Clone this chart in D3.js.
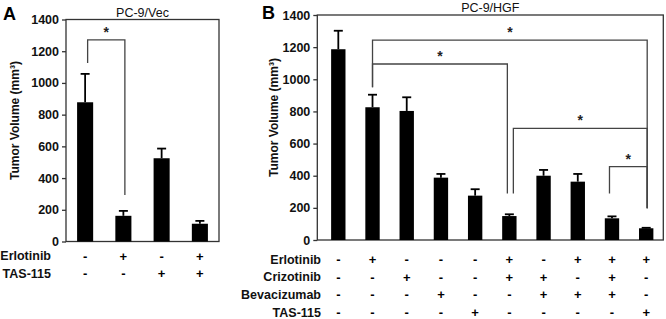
<!DOCTYPE html>
<html>
<head>
<meta charset="utf-8">
<script src="https://cdn.jsdelivr.net/npm/d3@7"></script>
<style>
  html, body { margin: 0; padding: 0; background: #fff; }
  svg { display: block; font-family: "Liberation Sans", Arial, sans-serif; }
</style>
</head>
<body>
<svg id="chart" width="666" height="319"></svg>
<script>
// Panel A: PC-9/Vec
const erlotinibA = ['-', '+', '-', '+'];
const tas115A = ['-', '-', '+', '+'];
const meanA = [878, 162, 525, 112];
const errA = [179, 31, 61, 18];
// bracket: from/to bar index, bar height in mm3, end heights
const bracketsA = [
  { from: 0, to: 1, top: 1271, startY: 1126, endY: 294 }
];

// Panel B: PC-9/HGF
const erlotinibB = ['-', '+', '-', '-', '-', '+', '-', '+', '+', '+'];
const crizotinibB = ['-', '-', '+', '-', '-', '+', '+', '-', '+', '-'];
const bevacizumabB = ['-', '-', '-', '+', '-', '-', '+', '+', '+', '-'];
const tas115B = ['-', '-', '-', '-', '+', '-', '-', '-', '-', '+'];
const meanB = [1187, 826, 803, 388, 276, 149, 400, 363, 135, 73];
const errB = [115, 78, 85, 23, 40, 11, 36, 48, 12, 3];
const bracketsB = [
  { from: 1, to: 9, top: 1244, startY: 950, endY: 197 },
  { from: 1, to: 5, top: 1095, startY: 950, endY: 290 },
  { from: 5, to: 9, top: 695, startY: 290, endY: 197 },
  { from: 8, to: 9, top: 456, startY: 290, endY: 197 }
];

const yTicks = [0, 200, 400, 600, 800, 1000, 1200, 1400];

const svg = d3.select('#chart');

function drawPanel(opts) {
  const { letter, title, left, right, top, bottom, bandLeft, means, errs, brackets, rows, rowY, rowGap, labelRight, ylabelX, nudge } = opts;
  const g = svg.append('g');
  const n = means.length;

  const x = d3.scaleBand()
    .domain(d3.range(n))
    .range([bandLeft, right])
    .paddingInner(0.58)
    .paddingOuter(0.29);
  const y = d3.scaleLinear().domain([0, 1400]).range([bottom, top]);
  const cx = i => x(i) + x.bandwidth() / 2;

  // frame
  g.append('rect')
    .attr('x', left).attr('y', top)
    .attr('width', right - left).attr('height', bottom - top)
    .attr('fill', 'none').attr('stroke', '#333').attr('stroke-width', 1.3);

  // y axis
  const axis = g.append('g')
    .attr('transform', `translate(${left},0)`)
    .call(d3.axisLeft(y).tickValues(yTicks).tickFormat(d3.format('d')).tickSize(4).tickPadding(3));
  axis.select('.domain').remove();
  axis.selectAll('line').attr('stroke', '#333').attr('stroke-width', 1.3);
  axis.selectAll('text')
    .attr('font-size', 12.5).attr('font-weight', 'bold').attr('fill', '#111')
    .attr('font-family', '"Liberation Sans", Arial, sans-serif');

  // bars
  g.selectAll('rect.bar').data(means).join('rect')
    .attr('class', 'bar')
    .attr('x', (d, i) => x(i)).attr('width', x.bandwidth())
    .attr('y', d => y(d)).attr('height', d => bottom - y(d))
    .attr('fill', '#000');

  // error bars (upper only)
  const eb = g.selectAll('g.err').data(means).join('g').attr('class', 'err');
  eb.append('line')
    .attr('x1', (d, i) => cx(i)).attr('x2', (d, i) => cx(i))
    .attr('y1', d => y(d)).attr('y2', (d, i) => y(d + errs[i]))
    .attr('stroke', '#000').attr('stroke-width', 1.8);
  eb.append('line')
    .attr('x1', (d, i) => cx(i) - 4.5).attr('x2', (d, i) => cx(i) + 4.5)
    .attr('y1', (d, i) => y(d + errs[i])).attr('y2', (d, i) => y(d + errs[i]))
    .attr('stroke', '#000').attr('stroke-width', 1.8);

  // significance brackets
  brackets.forEach((b, k) => {
    const x1 = cx(b.from) + (nudge[k] ? nudge[k][0] : 0);
    const x2 = cx(b.to) + (nudge[k] ? nudge[k][1] : 0);
    g.append('path')
      .attr('d', `M${x1},${y(b.startY)}V${y(b.top)}H${x2}V${y(b.endY)}`)
      .attr('fill', 'none').attr('stroke', '#444').attr('stroke-width', 1.3);
    g.append('text')
      .attr('x', (x1 + x2) / 2).attr('y', y(b.top) - 3)
      .attr('text-anchor', 'middle')
      .attr('font-size', 14).attr('font-weight', 'bold').attr('fill', '#222')
      .text('*');
  });

  // title
  g.append('text')
    .attr('x', (left + right) / 2).attr('y', top - 3)
    .attr('text-anchor', 'middle').attr('font-size', 12.5).attr('fill', '#111')
    .text(title);

  // panel letter
  g.append('text')
    .attr('x', opts.letterX).attr('y', opts.letterY)
    .attr('font-size', 18).attr('font-weight', 'bold').attr('fill', '#000')
    .text(letter);

  // y label
  g.append('text')
    .attr('transform', `translate(${ylabelX},${(top + bottom) / 2 - 10}) rotate(-90)`)
    .attr('text-anchor', 'middle').attr('dy', '0.35em')
    .attr('font-size', 12).attr('font-weight', 'bold').attr('fill', '#111')
    .text('Tumor Volume (mm³)');

  // treatment rows
  rows.forEach((r, k) => {
    const ry = rowY + k * rowGap;
    g.append('text')
      .attr('x', labelRight).attr('y', ry).attr('dy', '0.35em')
      .attr('text-anchor', 'end')
      .attr('font-size', 12.5).attr('font-weight', 'bold').attr('fill', '#111')
      .text(r.name);
    g.selectAll(null).data(r.values).join('text')
      .attr('x', (d, i) => cx(i)).attr('y', ry).attr('dy', '0.35em')
      .attr('text-anchor', 'middle')
      .attr('font-size', 13).attr('font-weight', 'bold').attr('fill', '#000')
      .text(d => d);
  });
}

drawPanel({
  letter: 'A', letterX: 3, letterY: 20,
  title: 'PC-9/Vec',
  left: 66, right: 219, top: 19.5, bottom: 241.5, bandLeft: 66,
  means: meanA, errs: errA, brackets: bracketsA,
  nudge: [[2.5, 1.5]],
  rows: [
    { name: 'Erlotinib', values: erlotinibA },
    { name: 'TAS-115', values: tas115A }
  ],
  rowY: 256, rowGap: 17.7, labelRight: 51, ylabelX: 15
});

drawPanel({
  letter: 'B', letterX: 262, letterY: 19,
  title: 'PC-9/HGF',
  left: 317.3, right: 663.3, top: 15, bottom: 240, bandLeft: 321.2,
  means: meanB, errs: errB, brackets: bracketsB,
  nudge: [[0, 1], [0, -2], [4, 1], [-2.5, 1]],
  rows: [
    { name: 'Erlotinib', values: erlotinibB },
    { name: 'Crizotinib', values: crizotinibB },
    { name: 'Bevacizumab', values: bevacizumabB },
    { name: 'TAS-115', values: tas115B }
  ],
  rowY: 259.5, rowGap: 17.6, labelRight: 321, ylabelX: 274
});
</script>
</body>
</html>
